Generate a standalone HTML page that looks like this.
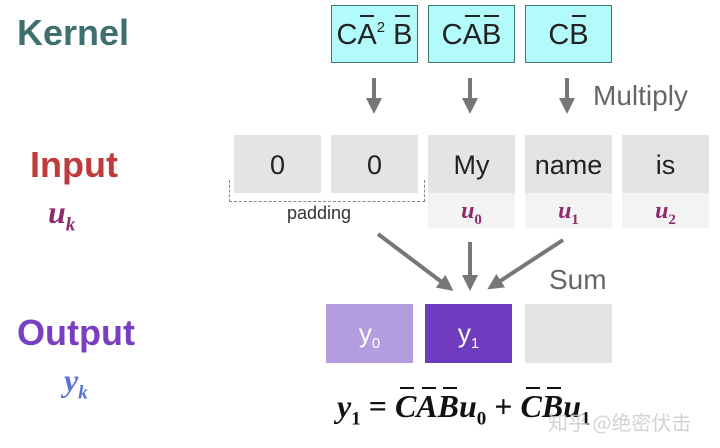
<!DOCTYPE html>
<html><head><style>
body{margin:0;width:720px;height:448px;background:#fff;position:relative;overflow:hidden;font-family:"Liberation Sans",sans-serif}
.a{position:absolute}
.k{position:absolute;top:5px;width:85px;height:56px;background:#b3fbfb;border:1.5px solid #3c7a72;font-size:29px;color:#222;text-align:center;line-height:58px;white-space:nowrap}
.b{position:absolute;width:87px;height:58px;background:#e4e4e4;font-size:27px;color:#222;text-align:center;line-height:60px;top:135px}
.s{position:absolute;width:87px;height:35px;background:#f3f3f3;top:193px;text-align:center;font:bold italic 24px "Liberation Serif",serif;color:#8e2a6e;line-height:36px}
.s sub{font-size:15px;font-style:normal}
.o{position:absolute;top:304px;width:87px;height:59px;color:#fff;font-size:26px;text-align:center;line-height:58px}
.o sub{font-size:15px}
.ov{position:relative;display:inline-block}
.ov:before{content:"";position:absolute;left:12%;right:12%;top:-4px;border-top:2px solid #222}
.k .ov:before{top:9px}
.e .ov:before{top:-1px;border-top-width:2px;border-color:#111;left:25%;right:10%}
</style></head><body>
<div class="a" style="left:17px;top:12px;font-size:36px;font-weight:bold;color:#3f7070">Kernel</div>
<div class="a" style="left:30px;top:144px;font-size:36px;font-weight:bold;color:#c0393b">Input</div>
<div class="a" style="left:48px;top:194px;font:bold italic 32px 'Liberation Serif',serif;color:#8e2a6e">u<sub style="font-size:19px">k</sub></div>
<div class="a" style="left:17px;top:312px;font-size:36px;font-weight:bold;color:#7a3fc0">Output</div>
<div class="a" style="left:64px;top:362px;font:bold italic 32px 'Liberation Serif',serif;color:#5a73d6">y<sub style="font-size:19px">k</sub></div>

<div class="k" style="left:331px">C<span class="ov">A</span><span style="font-size:15px;position:relative;top:-12px">2</span> <span class="ov">B</span></div>
<div class="k" style="left:428px">C<span class="ov">A</span><span class="ov">B</span></div>
<div class="k" style="left:525px">C<span class="ov">B</span></div>

<div class="b" style="left:234px">0</div>
<div class="b" style="left:331px">0</div>
<div class="b" style="left:428px">My</div>
<div class="b" style="left:525px">name</div>
<div class="b" style="left:622px">is</div>
<div class="s" style="left:428px">u<sub>0</sub></div>
<div class="s" style="left:525px">u<sub>1</sub></div>
<div class="s" style="left:622px">u<sub>2</sub></div>
<div class="a" style="left:229px;top:180px;width:194px;height:21px;border:1.5px dashed #888;border-top:none"></div>
<div class="a" style="left:287px;top:203px;font-size:18px;color:#333">padding</div>

<div class="a" style="left:593px;top:80px;font-size:28px;color:#666">Multiply</div>
<div class="a" style="left:549px;top:264px;font-size:28px;color:#666">Sum</div>

<svg class="a" style="left:0;top:0" width="720" height="448">
<defs><marker id="m" markerWidth="4" markerHeight="4" refX="2" refY="2" orient="auto" markerUnits="strokeWidth"><path d="M0,0L4,2L0,4Z" fill="#777"/></marker></defs>
<g stroke="#777" stroke-width="4" marker-end="url(#m)">
<line x1="374" y1="78" x2="374" y2="106"/>
<line x1="470" y1="78" x2="470" y2="106"/>
<line x1="567" y1="78" x2="567" y2="106"/>
<line x1="378" y1="234" x2="447" y2="286"/>
<line x1="470" y1="242" x2="470" y2="283"/>
<line x1="563" y1="240" x2="494" y2="285"/>
</g></svg>

<div class="o" style="left:326px;background:#b49ddf">y<sub>0</sub></div>
<div class="o" style="left:425px;background:#6f3bbf">y<sub>1</sub></div>
<div class="o" style="left:525px;background:#e4e4e4"></div>

<div class="a e" style="left:337px;top:388px;font:bold italic 32px 'Liberation Serif',serif;color:#111;white-space:nowrap">y<sub style="font-size:19px;font-style:normal">1</sub> <span style="font-style:normal">=</span> <span class="ov">C</span><span class="ov">A</span><span class="ov">B</span>u<sub style="font-size:19px;font-style:normal">0</sub> <span style="font-style:normal">+</span> <span class="ov">C</span><span class="ov">B</span>u<sub style="font-size:19px;font-style:normal">1</sub></div>
<div class="a" style="left:548px;top:407px;font:20px 'Noto Sans CJK SC',sans-serif;color:rgba(200,200,200,0.8)">知乎 @绝密伏击</div>
</body></html>
